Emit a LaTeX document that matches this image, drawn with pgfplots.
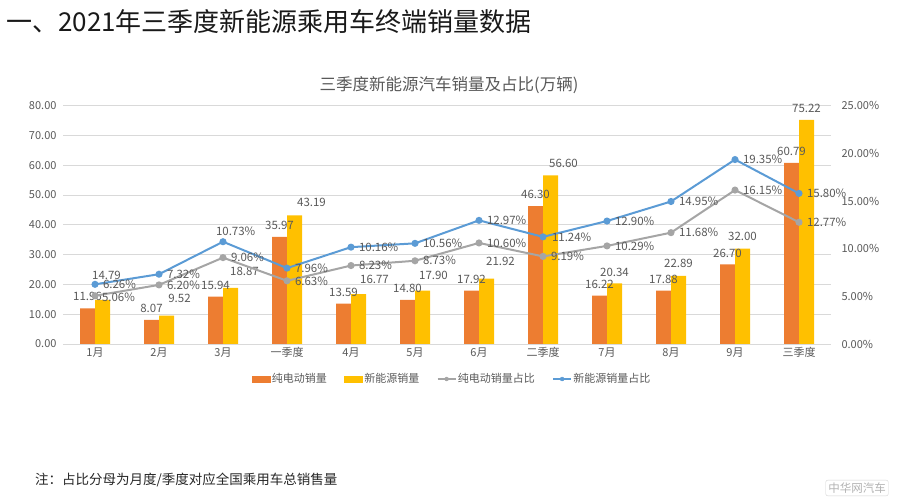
\documentclass[border=0pt]{standalone}
\usepackage{fontspec}
\setmainfont{Noto Sans CJK SC}
\usepackage{pgfplots}
\usepackage{pgfplotstable}
\pgfplotsset{compat=1.18}
\definecolor{cEV}{HTML}{ED7D31}
\definecolor{cNEV}{HTML}{FFC000}
\definecolor{cEVs}{HTML}{A5A5A5}
\definecolor{cNEVs}{HTML}{5B9BD5}
\definecolor{ctxt}{HTML}{595959}
\definecolor{cgrid}{HTML}{D9D9D9}

\pgfplotstableread{
x ev nev dx dy
0 11.96 14.79 4 25
1 8.07 9.52 13 17
2 15.94 18.87 14 16
3 35.97 43.19 17 13
4 13.59 16.77 16 15
5 14.80 17.90 11 15
6 17.92 21.92 14 17
7 46.30 56.60 13 12.5
8 16.22 20.34 0 11.5
9 17.88 22.89 0 12
10 26.70 32.00 0 12
11 60.79 75.22 0 12
}\bars

\pgfplotstableread{
x evs nevs edx edy ndx ndy
0 5.06 6.26 6 -2 7 0
1 6.20 7.32 7 0 7 0
2 9.06 10.73 7 0 -8 10
3 6.63 7.96 7 0 7 0
4 8.23 10.16 7 0 7 0
5 8.73 10.56 7 0 7 0
6 10.60 12.97 7 0 7 0
7 9.19 11.24 7 0 8 0
8 10.29 12.90 7 0 7 0
9 11.68 14.95 7 0 7 0
10 16.15 19.35 7 0 7 0
11 12.77 15.80 7 0 7 0
}\shares

\begin{document}
\begin{tikzpicture}[x=1pt,y=1pt]
\useasboundingbox (0,0) rectangle (900,503);

% heading
\node[anchor=west, inner sep=0pt, font=\fontsize{26}{28}\selectfont, text=black!90] at (6,481) {一、2021年三季度新能源乘用车终端销量数据};
% chart title
\node[font=\fontsize{16.5}{18}\selectfont, text=ctxt] at (449,418) {三季度新能源汽车销量及占比(万辆)};

\begin{axis}[
  at={(63pt,159pt)}, anchor=south west,
  scale only axis, width=768pt, height=238.3pt,
  xmin=-0.5, xmax=11.5, ymin=0, ymax=80,
  ybar=0pt, bar width=15pt,
  clip=false,
  axis line style={draw=none},
  major tick length=0pt,
  ymajorgrids, grid style={cgrid, line width=0.8pt},
  ytick={0,10,...,80},
  xtick={0,...,11},
  xticklabels={1月,2月,3月,一季度,4月,5月,6月,二季度,7月,8月,9月,三季度},
  /pgf/number format/assume math mode=true,
  yticklabel={\pgfmathprintnumber[fixed,fixed zerofill,precision=2]{\tick}},
  ticklabel style={font=\fontsize{11}{12}\selectfont, text=ctxt},
  yticklabel style={xshift=-3pt},
  legend style={at={(0.5065,-0.147)}, anchor=center, draw=none, fill=none,
    font=\fontsize{11}{12}\selectfont, text=ctxt, legend columns=4,
    /tikz/every even column/.append style={column sep=16pt},
    nodes={inner sep=1.5pt}},
]
\addplot[fill=cEV, draw=none, forget plot, bar shift=-7.5pt,
  nodes near coords={\pgfmathprintnumber[fixed,fixed zerofill,precision=2]{\pgfplotspointmeta}},
  nodes near coords style={anchor=center, yshift=11.5pt, font=\fontsize{11.5}{12}\selectfont, text=ctxt, inner sep=0pt}
] table[x=x,y=ev]{\bars};
\addplot[fill=cNEV, draw=none, forget plot, bar shift=7.5pt,
  visualization depends on={\thisrow{dx} \as \lx},
  visualization depends on={\thisrow{dy} \as \ly},
  nodes near coords={\pgfmathprintnumber[fixed,fixed zerofill,precision=2]{\pgfplotspointmeta}},
  nodes near coords style={anchor=center, xshift=\lx pt, yshift=\ly pt, font=\fontsize{11.5}{12}\selectfont, text=ctxt, inner sep=0pt}
] table[x=x,y=nev]{\bars};
\addlegendimage{legend image code/.code={\fill[cEV] (0pt,-3pt) rectangle (18pt,3pt);}}
\addlegendentry{纯电动销量}
\addlegendimage{legend image code/.code={\fill[cNEV] (0pt,-3pt) rectangle (18pt,3pt);}}
\addlegendentry{新能源销量}
\addlegendimage{legend image code/.code={\draw[cEVs, line width=1.5pt] (0pt,0pt) -- (18pt,0pt); \fill[cEVs] (9pt,0pt) circle (2pt);}}
\addlegendentry{纯电动销量占比}
\addlegendimage{legend image code/.code={\draw[cNEVs, line width=1.5pt] (0pt,0pt) -- (18pt,0pt); \fill[cNEVs] (9pt,0pt) circle (2pt);}}
\addlegendentry{新能源销量占比}
\end{axis}

\begin{axis}[
  at={(63pt,159pt)}, anchor=south west,
  scale only axis, width=768pt, height=238.3pt,
  xmin=-0.5, xmax=11.5, ymin=0, ymax=25,
  clip=false,
  axis line style={draw=none},
  major tick length=0pt,
  xtick=\empty,
  ytick={0,5,...,25},
  yticklabel pos=right,
  /pgf/number format/assume math mode=true,
  yticklabel={\pgfmathprintnumber[fixed,fixed zerofill,precision=2]{\tick}\%},
  ticklabel style={font=\fontsize{11}{12}\selectfont, text=ctxt},
  yticklabel style={xshift=7pt},
]
\addplot[cEVs, line width=2pt, mark=*, mark size=2.5pt,
  visualization depends on={\thisrow{edx} \as \lx},
  visualization depends on={\thisrow{edy} \as \ly},
  nodes near coords={\pgfmathprintnumber[fixed,fixed zerofill,precision=2]{\pgfplotspointmeta}\%},
  nodes near coords style={anchor=west, xshift=\lx pt, yshift=\ly pt, font=\fontsize{11.5}{12}\selectfont, text=ctxt, inner sep=0pt}
] table[x=x,y=evs]{\shares};
\addplot[cNEVs, line width=2pt, mark=*, mark size=2.5pt,
  visualization depends on={\thisrow{ndx} \as \lx},
  visualization depends on={\thisrow{ndy} \as \ly},
  nodes near coords={\pgfmathprintnumber[fixed,fixed zerofill,precision=2]{\pgfplotspointmeta}\%},
  nodes near coords style={anchor=west, xshift=\lx pt, yshift=\ly pt, font=\fontsize{11.5}{12}\selectfont, text=ctxt, inner sep=0pt}
] table[x=x,y=nevs]{\shares};
\end{axis}

% footnote
\node[anchor=west, inner sep=0pt, font=\fontsize{13.5}{15}\selectfont, text=black!85] at (35,23) {注：占比分母为月度/季度对应全国乘用车总销售量};
% watermark
\node[draw=black!18, rounded corners=2pt, text=black!30, font=\fontsize{11.5}{12}\selectfont, inner sep=2.5pt] at (857,15) {中华网汽车};
\end{tikzpicture}
\end{document}
